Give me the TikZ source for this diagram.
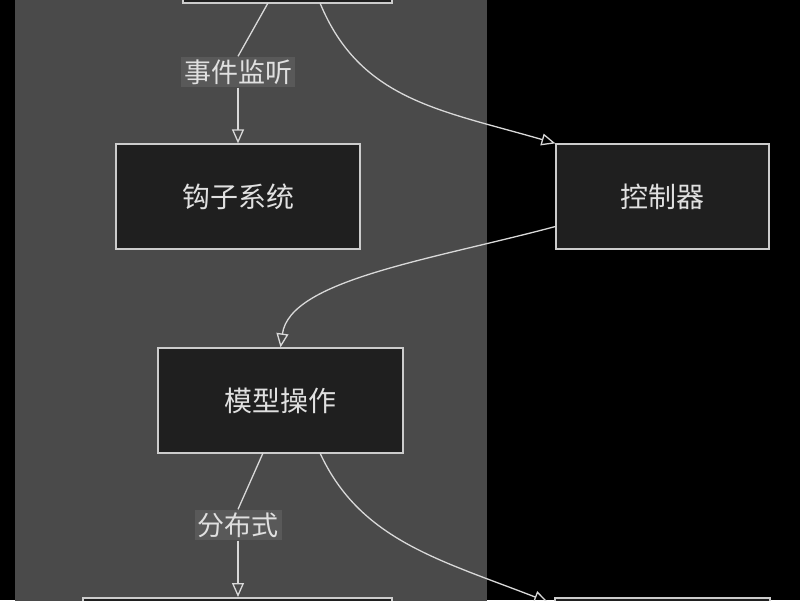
\documentclass[tikz,border=0pt]{standalone}
\usepackage{fontspec}
\setmainfont{Noto Sans CJK SC}
\usetikzlibrary{arrows.meta}
\begin{document}
\begin{tikzpicture}[x=1pt,y=-1pt,
  box/.style={draw=white!80!black,line width=1.2pt,fill=black!88,text=white!88!black,font=\fontsize{28}{30}\selectfont,inner sep=0pt},
  lbl/.style={fill=white!35!black,text=white!88!black,font=\fontsize{27}{30}\selectfont,inner sep=3pt},
  arr/.style={draw=white!85!black,line width=1.3pt,-{Triangle[open,length=14pt,width=12pt]}}]
\useasboundingbox (0,0) rectangle (800,600);
\clip (0,0) rectangle (800,600);
\fill[black] (0,0) rectangle (800,600);
\fill[white!29!black] (15,-5) rectangle (487,605);
\node[box,minimum width=209pt,minimum height=60pt] (top) at (287.5,-27) {};
\node[box,minimum width=244pt,minimum height=105pt] (hook) at (238,196.5) {钩子系统};
\node[box,minimum width=213pt,minimum height=105pt] (ctrl) at (662.5,196.5) {控制器};
\node[box,minimum width=245pt,minimum height=105pt] (model) at (280.5,400.5) {模型操作};
\node[box,minimum width=309pt,minimum height=60pt] (bl) at (237.5,628) {};
\node[box,minimum width=215pt,minimum height=60pt] (br) at (662.5,628) {};
\node[lbl] (l1) at (238,72) {事件监听};
\node[lbl] (l2) at (238,525) {分布式};
\draw[draw=white!85!black,line width=1.3pt] (268,3) -- (l1.north);
\draw[arr] (l1.south) -- (hook.north);
\draw[draw=white!85!black,line width=1.3pt] (263,453) -- (l2.north);
\draw[arr] (l2.south) -- (238,597);
\draw[arr] (320,3) .. controls (360,100) and (440,110) .. (ctrl.north west);
\draw[arr] (ctrl.west) ++(0,30) .. controls (430,260) and (290,280) .. (model.north);
\draw[arr] (320,453) .. controls (360,540) and (440,560) .. (548,602);
\end{tikzpicture}
\end{document}
